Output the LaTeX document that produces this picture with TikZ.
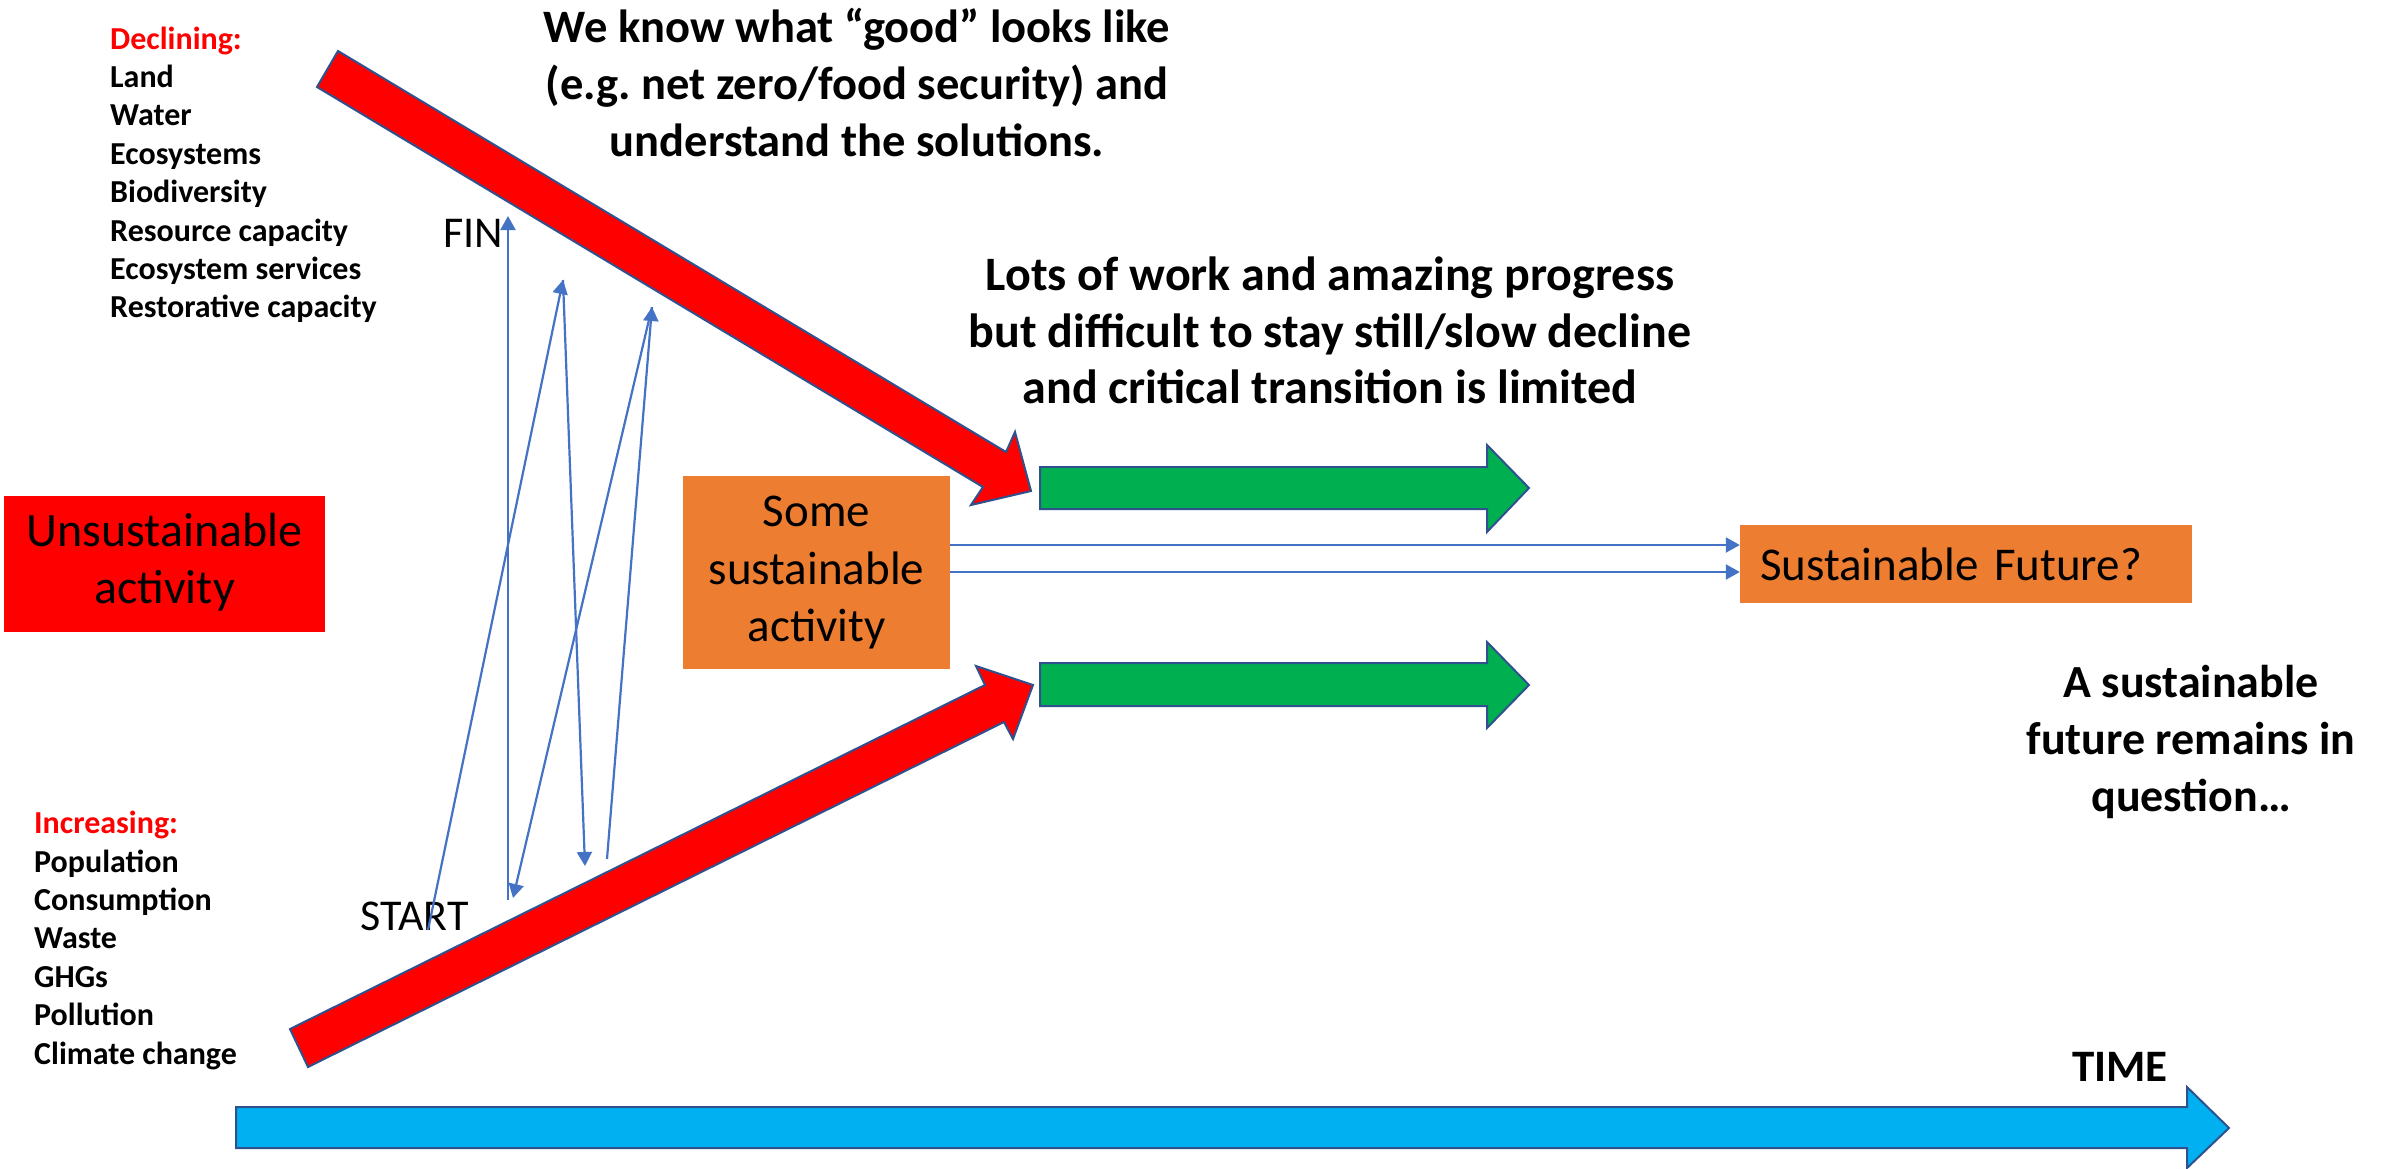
\documentclass[tikz,border=0pt]{standalone}
\usepackage{fontspec}
\setmainfont{Carlito}
\usetikzlibrary{arrows.meta}
\definecolor{cred}{HTML}{FF0000}
\definecolor{corange}{HTML}{ED7D31}
\definecolor{cgreen}{HTML}{00B050}
\definecolor{csky}{HTML}{00B0F0}
\definecolor{cline}{HTML}{4472C4}
\definecolor{coutline}{HTML}{2F528F}
\frenchspacing
\begin{document}
\begin{tikzpicture}[x=1pt,y=-1pt,
  blockarrow/.style={draw=coutline,line width=2pt,line join=miter},
  thinarrow/.style={draw=cline,line width=2.2pt,-{Triangle[length=14pt,width=15pt]}},
  bigtext/.style={font=\fontsize{46}{57}\selectfont\bfseries,align=center,inner sep=0pt,anchor=north},
  listtext/.style={font=\fontsize{32}{38.4}\selectfont\bfseries,align=left,inner sep=0pt,anchor=north west},
  marktext/.style={font=\fontsize{44}{53}\selectfont,inner sep=0pt,anchor=base west}]
\fill[white] (0,0) rectangle (2394,1168);
\useasboundingbox (0,0) rectangle (2394,1168);

% left lists
\node[listtext] (declining) at (110,22.1) {\strut\textcolor{cred}{Declining:}\\Land\\Water\\Ecosystems\\Biodiversity\\Resource capacity\\Ecosystem services\\Restorative capacity};
\node[listtext] (increasing) at (34,806.6) {\strut\textcolor{cred}{Increasing:}\\Population\\Consumption\\Waste\\GHGs\\Pollution\\Climate change};

% headline texts
\node[bigtext,font=\fontsize{46.5}{57}\selectfont\bfseries] (know) at (857,2.1) {\strut We know what “good” looks like\\(e.g. net zero/food security) and\\understand the solutions.};
\node[bigtext,font=\fontsize{48}{56.5}\selectfont\bfseries] (lots) at (1330,251) {\strut Lots of work and amazing progress\\but difficult to stay still/slow decline\\and critical transition is limited};
\node[bigtext] (question) at (2191,657) {\strut A sustainable\\future remains in\\question…};
\node[font=\fontsize{45}{54}\selectfont\bfseries,inner sep=0pt,anchor=base west] (time) at (2072,1081) {TIME};

% time arrow
\path[blockarrow,fill=csky] (236,1107) -- (2187,1107) -- (2187,1087) -- (2229,1128) -- (2187,1168) -- (2187,1148) -- (236,1148) -- cycle;

% red arrows
\path[blockarrow,fill=cred] (338,51) -- (1006,452) -- (1015,432) -- (1031,491) -- (971,505) -- (983,487) -- (317,87) -- cycle;
\path[blockarrow,fill=cred] (290,1029) -- (985,685) -- (976,666) -- (1033,685) -- (1013,739) -- (1004,722) -- (308,1067) -- cycle;

% green arrows
\path[blockarrow,fill=cgreen] (1040,467) -- (1487,467) -- (1487,445) -- (1529,488) -- (1487,532) -- (1487,509) -- (1040,509) -- cycle;
\path[blockarrow,fill=cgreen] (1040,663) -- (1487,663) -- (1487,642) -- (1529,685) -- (1487,728) -- (1487,706) -- (1040,706) -- cycle;

% boxes
\node[fill=cred,minimum width=321pt,minimum height=136pt,inner sep=0pt,align=center,
  font=\fontsize{48}{57}\selectfont] (unsus) at (164.5,564) {\strut Unsustainable\\activity\strut};
\node[fill=corange,minimum width=267pt,minimum height=193pt,inner sep=0pt,align=center,
  font=\fontsize{47}{57.5}\selectfont] (some) at (816.5,572.5) {\strut Some\\sustainable\\activity\strut};
\node[fill=corange,text width=412pt,align=left,inner xsep=20pt,inner ysep=0pt,minimum height=78pt,
  text height=33pt,text depth=0pt,font=\fontsize{47}{57}\selectfont] (future) at (1966,564) {Sustainable Future?};

% connectors between boxes
\coordinate (ya) at (0,545);
\coordinate (yb) at (0,572);
\draw[thinarrow] (some.east |- ya) -- (future.west |- ya);
\draw[thinarrow] (some.east |- yb) -- (future.west |- yb);

% START / FIN
\node[marktext] (fin) at (443,247) {FIN};
\node[marktext] (start) at (360,930) {START};

\coordinate (s1) at (428,930);
\coordinate (t1) at (563,280);
\coordinate (b1) at (585,866);
\coordinate (s2) at (607,859);
\coordinate (t2) at (652,307);
\coordinate (b2) at (513,898);
\coordinate (s3) at (508,900);
\coordinate (f3) at (508,216);
\draw[thinarrow] (s1) -- (t1);
\draw[thinarrow] (t1) -- (b1);
\draw[thinarrow] (s2) -- (t2);
\draw[thinarrow] (t2) -- (b2);
\draw[thinarrow] (s3) -- (f3);
\end{tikzpicture}
\end{document}
